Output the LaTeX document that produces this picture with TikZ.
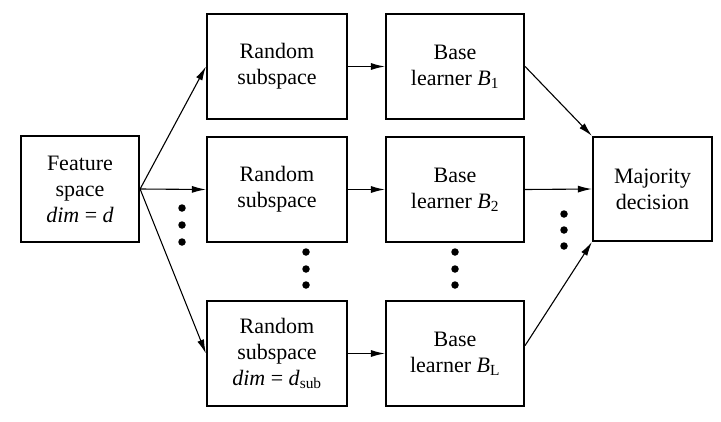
\documentclass[tikz,border=0pt]{standalone}
\usepackage{fontspec}
\setmainfont{Liberation Serif}
\usetikzlibrary{arrows.meta}
\begin{document}
\begin{tikzpicture}[x=1pt,y=-1pt,
  box/.style={draw, line width=2.2pt, inner sep=0pt, align=center,
    font=\fontsize{22}{26}\selectfont},
  conn/.style={line width=1.1pt, -{Latex[length=14pt,width=7pt]}},
  dot/.style={circle, fill=black, inner sep=0pt, minimum size=7.5pt}]
\useasboundingbox (0,0) rectangle (721,421);
\node[box, minimum width=118pt, minimum height=106pt] (fs) at (80,189) {Feature\\space\\\textit{dim} = \textit{d}};
\node[box, minimum width=140pt, minimum height=105pt] (rs1) at (277,66.5) {Random\\subspace};
\node[box, minimum width=140pt, minimum height=105pt] (rs2) at (277,189.5) {Random\\subspace};
\node[box, minimum width=140pt, minimum height=105pt] (rs3) at (277,353.5) {Random\\subspace\\\textit{dim} = \textit{d}\textsubscript{sub}};
\node[box, minimum width=138pt, minimum height=105pt] (bl1) at (455,66.5) {Base\\learner \textit{B}\textsubscript{1}};
\node[box, minimum width=138pt, minimum height=105pt] (bl2) at (455,189.5) {Base\\learner \textit{B}\textsubscript{2}};
\node[box, minimum width=138pt, minimum height=105pt] (bl3) at (455,353.5) {Base\\learner \textit{B}\textsubscript{L}};
\node[box, minimum width=119pt, minimum height=104pt] (md) at (652.5,189) {Majority\\decision};
\draw[conn] (fs.east) -- (rs1.west);
\draw[conn] (fs.east) -- (rs2.west);
\draw[conn] (fs.east) -- (rs3.west);
\draw[conn] (rs1.east) -- (bl1.west);
\draw[conn] (rs2.east) -- (bl2.west);
\draw[conn] (rs3.east) -- (bl3.west);
\draw[conn] (bl1.east) -- (md.north west);
\draw[conn] (bl2.east) -- (md.west);
\draw[conn] ([yshift=8pt]bl3.east) -- (md.south west);
\foreach \i/\y in {1/208,2/225,3/242} \node[dot] (la\i) at (182,\y) {};
\foreach \i/\y in {1/252,2/269,3/285} \node[dot] (ma\i) at (306,\y) {};
\foreach \i/\y in {1/252,2/269,3/285} \node[dot] (mb\i) at (455,\y) {};
\foreach \i/\y in {1/214,2/230,3/246} \node[dot] (ra\i) at (564,\y) {};
\end{tikzpicture}
\end{document}
